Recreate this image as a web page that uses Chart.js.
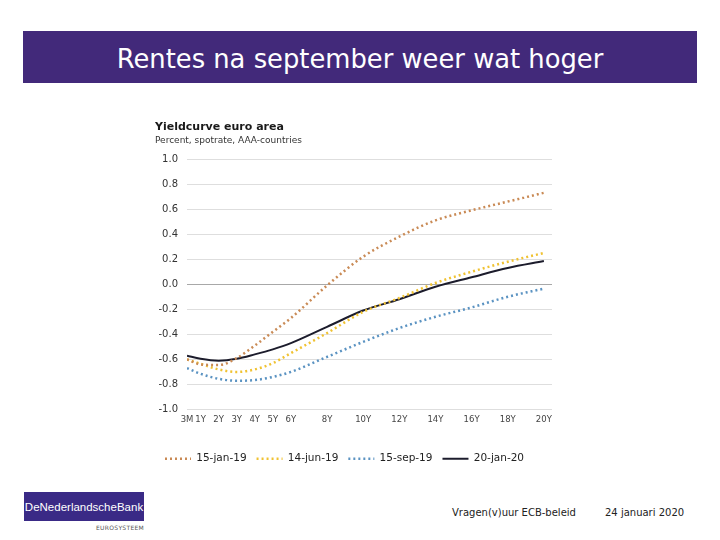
<!DOCTYPE html>
<html>
<head>
<meta charset="utf-8">
<title>Rentes na september weer wat hoger</title>
<script src="https://cdn.jsdelivr.net/npm/chart.js@4.4.1/dist/chart.umd.min.js"></script>
<style>
    body { margin: 0; background: #fff; font-family: "DejaVu Sans", sans-serif; }
    .slide { position: relative; width: 720px; height: 540px; overflow: hidden; }
    .header {
        position: absolute; left: 23px; top: 31px; width: 674px; height: 52px;
        background: #42297a; color: #fff; font-size: 25.8px;
        line-height: 57px; text-align: center; box-sizing: border-box;
    }
    .chart-box { position: absolute; left: 150px; top: 115px; width: 410px; height: 359px; }
    .logo {
        position: absolute; left: 24px; top: 492px; width: 120px; height: 29px;
        background: #3a2a86; color: #fff; font-family: "Liberation Sans", sans-serif;
        font-size: 11.5px; line-height: 30px; text-align: center; white-space: nowrap;
    }
    .eurosys { position: absolute; left: 96px; top: 524px; font-size: 6px; color: #555; letter-spacing: 0.3px; }
    .footer { position: absolute; top: 507px; font-size: 10px; color: #222; }
</style>
</head>
<body>
<div class="slide">
    <div class="header">Rentes na september weer wat hoger</div>
    <div class="chart-box"><canvas id="yieldChart"></canvas></div>
    <div class="logo">DeNederlandscheBank</div>
    <div class="eurosys">EUROSYSTEEM</div>
    <div class="footer" style="left:452px">Vragen(v)uur ECB-beleid</div>
    <div class="footer" style="left:605px">24 januari 2020</div>
</div>

<script>
// --- Data (maturity in years, rate in percent) ---
const maturities = [0.25, 1, 2, 3, 4, 5, 6, 8, 10, 12, 14, 16, 18, 20];
const tickLabels = ['3M', '1Y', '2Y', '3Y', '4Y', '5Y', '6Y', '8Y', '10Y', '12Y', '14Y', '16Y', '18Y', '20Y'];

const jan19 = [-0.60, -0.64, -0.645, -0.59, -0.49, -0.38, -0.27, -0.01, 0.22, 0.38, 0.51, 0.59, 0.66, 0.73];
const jun19 = [-0.60, -0.635, -0.68, -0.70, -0.68, -0.63, -0.55, -0.39, -0.22, -0.11, 0.01, 0.10, 0.18, 0.25];
const sep19 = [-0.67, -0.715, -0.755, -0.77, -0.765, -0.74, -0.70, -0.58, -0.46, -0.35, -0.26, -0.185, -0.10, -0.035];
const jan20 = [-0.57, -0.595, -0.61, -0.595, -0.56, -0.52, -0.47, -0.34, -0.21, -0.12, -0.02, 0.056, 0.13, 0.185];

const seriesNames = ['15-jan-19', '14-jun-19', '15-sep-19', '20-jan-20'];

function toPoints(values) {
    return values.map((v, i) => ({ x: maturities[i], y: v }));
}

function makeDataset(label, values, color, dotted) {
    return {
        label: label,
        data: toPoints(values),
        borderColor: color,
        backgroundColor: color,
        borderWidth: dotted ? 2.5 : 2,
        borderDash: dotted ? [2, 3] : [],
        pointRadius: 0,
        cubicInterpolationMode: 'monotone',
        fill: false
    };
}

document.addEventListener('DOMContentLoaded', () => {
    const ctx = document.getElementById('yieldChart').getContext('2d');
    const font = 'DejaVu Sans';

    new Chart(ctx, {
        type: 'line',
        data: {
            datasets: [
                makeDataset(seriesNames[0], jan19, '#c98a55', true),
                makeDataset(seriesNames[1], jun19, '#f0c232', true),
                makeDataset(seriesNames[2], sep19, '#5b93c2', true),
                makeDataset(seriesNames[3], jan20, '#1c1c2c', false)
            ]
        },
        options: {
            responsive: true, maintainAspectRatio: false, animation: false,
            layout: { padding: { left: 5, right: 8, top: 6, bottom: 0 } },
            plugins: {
                title: {
                    display: true, text: 'Yieldcurve euro area', align: 'start',
                    color: '#1a1a1a', font: { family: font, size: 11, weight: 'bold' },
                    padding: { top: 0, bottom: 1 }
                },
                subtitle: {
                    display: true, text: 'Percent, spotrate, AAA-countries', align: 'start',
                    color: '#333', font: { family: font, size: 9 },
                    padding: { top: 0, bottom: 13 }
                },
                legend: {
                    position: 'bottom', align: 'start',
                    labels: {
                        usePointStyle: true, pointStyle: 'line', pointStyleWidth: 26,
                        boxHeight: 8, padding: 10,
                        color: '#222', font: { family: font, size: 10.5 },
                        // legend lines keep the dotted style of each dataset
                        generateLabels: chart => chart.data.datasets.map((ds, i) => ({
                            text: ds.label,
                            datasetIndex: i,
                            fillStyle: ds.borderColor,
                            strokeStyle: ds.borderColor,
                            lineWidth: ds.borderWidth,
                            lineDash: ds.borderDash,
                            pointStyle: 'line',
                            fontColor: '#222',
                            hidden: false
                        }))
                    }
                },
                tooltip: { enabled: false }
            },
            scales: {
                x: {
                    type: 'linear', min: 0.25, max: 20.45,
                    afterBuildTicks: scale => { scale.ticks = maturities.map(v => ({ value: v })); },
                    afterFit: scale => { scale.height = 34; },
                    grid: { display: false, drawTicks: false }, border: { display: false },
                    ticks: {
                        autoSkip: false, maxRotation: 0, padding: 5,
                        color: '#444', font: { family: font, size: 8.5 },
                        callback: value => tickLabels[maturities.indexOf(value)]
                    }
                },
                y: {
                    min: -1, max: 1,
                    afterFit: scale => { scale.width = 32; },
                    border: { display: false },
                    grid: {
                        color: c => (c.tick && c.tick.value === 0) ? '#a8a8a8' : '#dedede',
                        drawTicks: false
                    },
                    ticks: {
                        stepSize: 0.2, padding: 9,
                        color: '#333', font: { family: font, size: 10 },
                        callback: value => value.toFixed(1)
                    }
                }
            }
        }
    });
});
</script>
</body>
</html>
